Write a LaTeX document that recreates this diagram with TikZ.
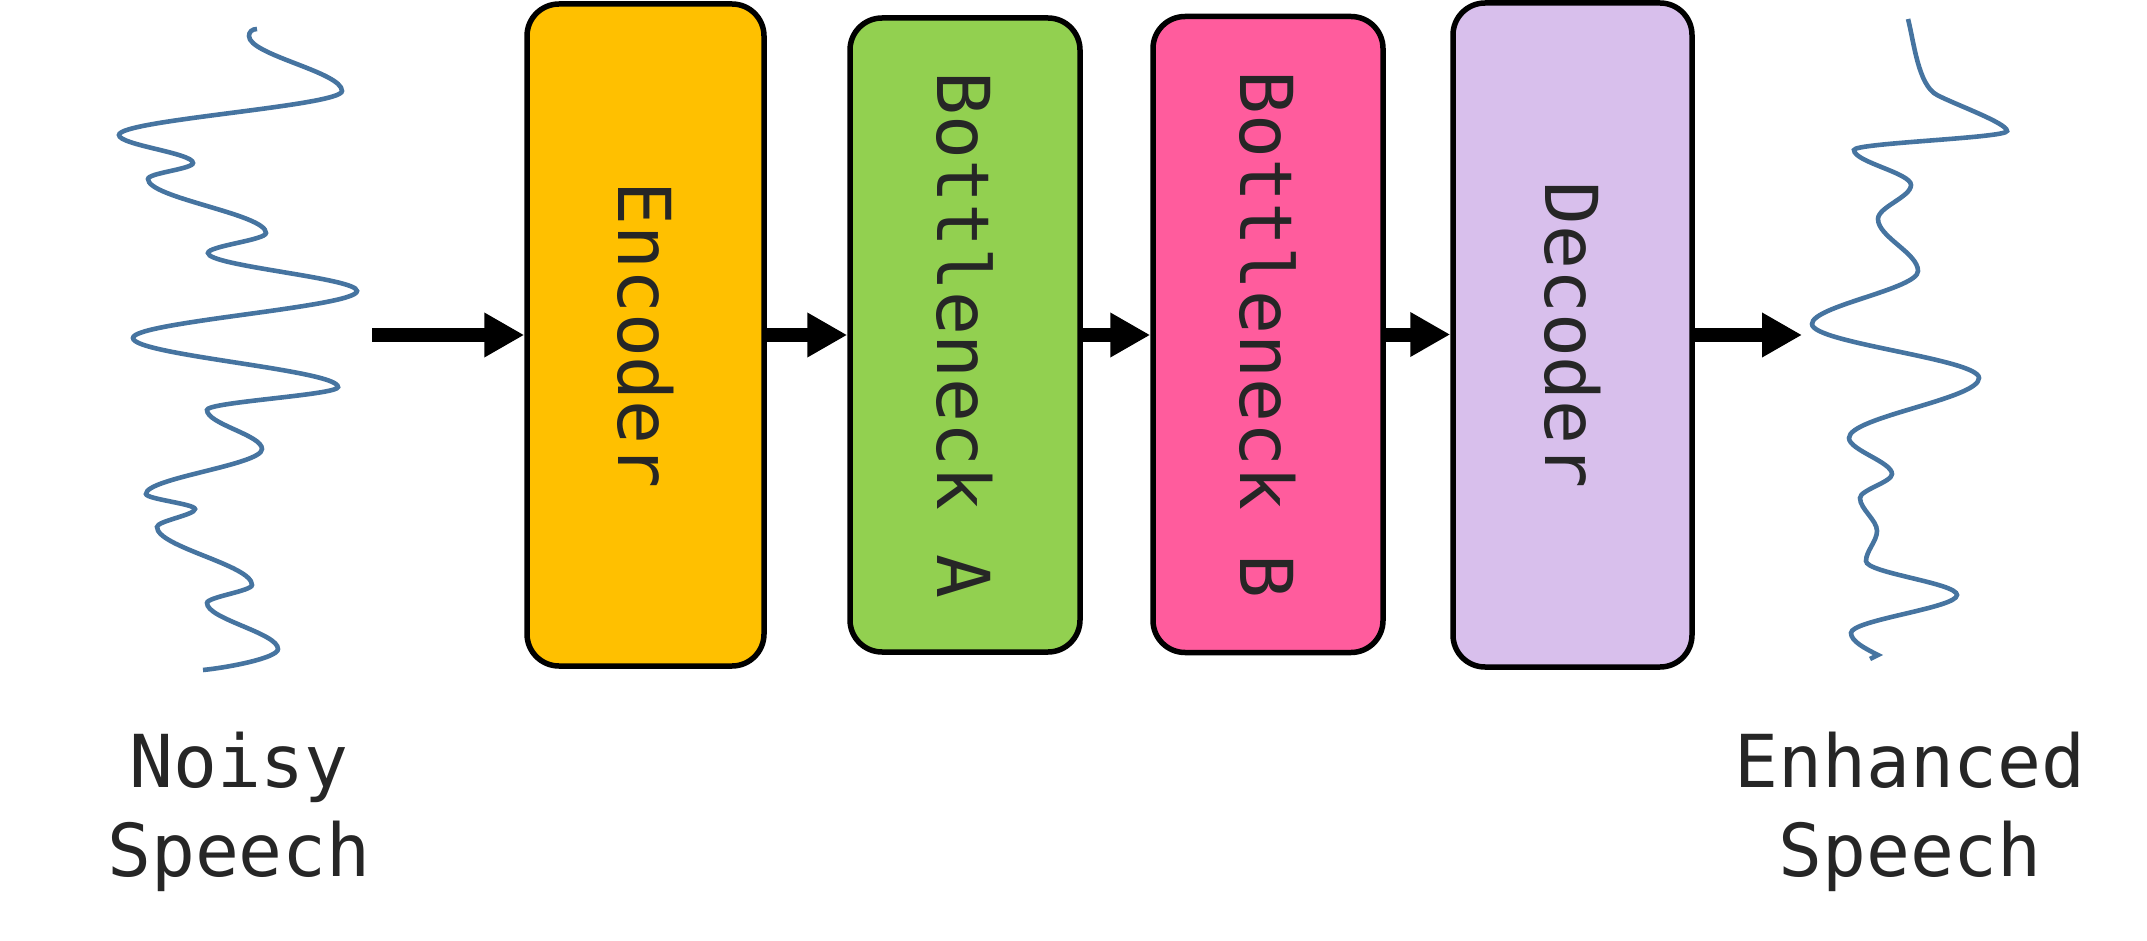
\documentclass[tikz,border=0pt]{standalone}
\usepackage{fontspec}
\usepackage{graphicx}
\newfontfamily\monof{DejaVu Sans Mono}
\usetikzlibrary{arrows.meta}
\definecolor{encY}{HTML}{FFC000}
\definecolor{bnA}{HTML}{92D050}
\definecolor{bnB}{HTML}{FF5C9D}
\definecolor{decL}{HTML}{D8BFEC}
\definecolor{wave}{RGB}{70,116,160}
\definecolor{txt}{HTML}{262626}
\begin{document}
\begin{tikzpicture}[x=1pt,y=-1pt,
  blk/.style={draw=black, line width=5.5pt, rounded corners=32pt, inner sep=0pt,
    font=\monof\fontsize{73}{88}\selectfont, text=txt},
  lbl/.style={font=\monof\fontsize{73}{89}\selectfont, text=txt, align=center, inner sep=0pt},
  flow/.style={line width=14pt, -{Triangle[length=40pt,width=42pt]}},
  wavy/.style={draw=wave, line width=4.6pt}]
\useasboundingbox (0,0) rectangle (2147,941);

% blocks
\node[blk, fill=encY, minimum width=237, minimum height=662] (enc) at (645.5,335) {\rotatebox{-90}{Encoder}};
\node[blk, fill=bnA, minimum width=230, minimum height=634] (ba) at (965,335) {\rotatebox{-90}{Bottleneck A}};
\node[blk, fill=bnB, minimum width=230, minimum height=636] (bb) at (1268,334.5) {\rotatebox{-90}{Bottleneck B}};
\node[blk, fill=decL, minimum width=239, minimum height=664] (dec) at (1572.5,335) {\rotatebox{-90}{Decoder}};

% labels
\node[lbl, anchor=base] (noisy) at (239,876) {Noisy\\Speech};
\node[lbl, anchor=base] (enh) at (1910,876) {Enhanced\\Speech};

% connectors
\coordinate (src) at (372,335);
\coordinate (dst) at (1802,335);
\draw[flow] (src) -- (src -| enc.west);
\draw[flow] (enc.east) -- (enc.east -| ba.west);
\draw[flow] (ba.east) -- (ba.east -| bb.west);
\draw[flow] (bb.east) -- (bb.east -| dec.west);
\draw[flow] (dec.east) -- (dec.east -| dst);

% noisy waveform
\draw[wavy] (257,29) .. controls (252,29) and (249,32) .. (249,36)
 .. controls +(0,19) and +(0,-19) .. (342,91)
 .. controls +(0,15) and +(0,-15) .. (119,135)
 .. controls +(0,10) and +(0,-10) .. (193,163)
 .. controls +(0,6) and +(0,-6) .. (148,179)
 .. controls +(0,19) and +(0,-19) .. (266,233)
 .. controls +(0,7) and +(0,-7) .. (208,253)
 .. controls +(0,13) and +(0,-13) .. (357,291)
 .. controls +(0,16) and +(0,-16) .. (133,338)
 .. controls +(0,17) and +(0,-17) .. (338,387)
 .. controls +(0,8) and +(0,-8) .. (207,410)
 .. controls +(0,14) and +(0,-14) .. (262,449)
 .. controls +(0,16) and +(0,-16) .. (146,494)
 .. controls +(0,5) and +(0,-5) .. (195,509)
 .. controls +(0,6) and +(0,-6) .. (157,527)
 .. controls +(0,20) and +(0,-20) .. (252,585)
 .. controls +(0,6) and +(0,-6) .. (207,603)
 .. controls +(0,16) and +(0,-16) .. (278,649)
 .. controls +(0,9) and +(25,-2.5) .. (203,670);

% enhanced waveform
\draw[wavy] (1908,19) .. controls (1914,42) and (1918,85) .. (1937,95)
 .. controls (1955,104.5) and (2007,123) .. (2007,131)
 .. controls +(0,7) and +(0,-7) .. (1854,150)
 .. controls +(0,12) and +(0,-12) .. (1911,185)
 .. controls +(0,12) and +(0,-12) .. (1878,219)
 .. controls +(0,18) and +(0,-18) .. (1918,271)
 .. controls +(0,18) and +(0,-18) .. (1812,324)
 .. controls +(0,19) and +(0,-19) .. (1979,378)
 .. controls +(0,21) and +(0,-21) .. (1849,438)
 .. controls +(0,12) and +(0,-12) .. (1892,474)
 .. controls +(0,8) and +(0,-8) .. (1860,498)
 .. controls +(0,11) and +(0,-11) .. (1877,531)
 .. controls +(0,10) and +(0,-10) .. (1866,561)
 .. controls +(0,12) and +(0,-12) .. (1957,595)
 .. controls +(0,13) and +(0,-13) .. (1851,633)
 .. controls +(0,8) and +(-14,-7) .. (1878,655)
 -- (1870,659);
\end{tikzpicture}
\end{document}
